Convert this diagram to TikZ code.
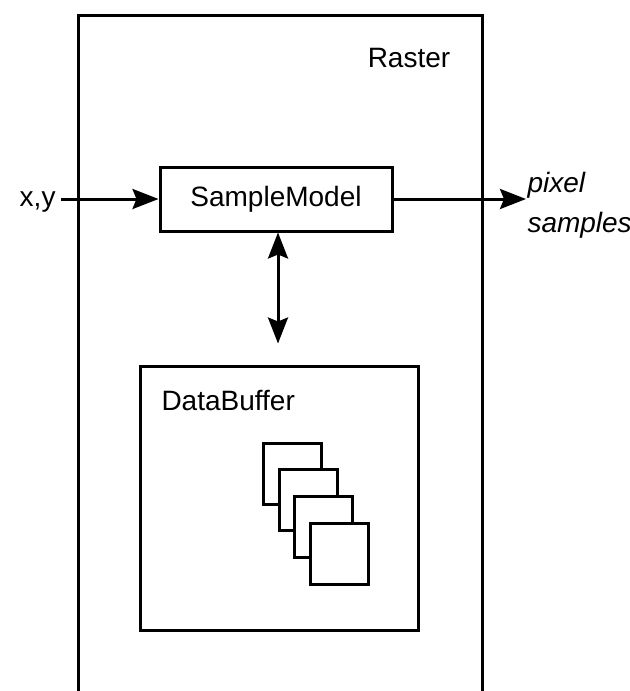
\documentclass[tikz,border=0pt]{standalone}
\usepackage{fontspec}
\setmainfont{Liberation Sans}
\usetikzlibrary{positioning, arrows.meta, calc}

\begin{document}
\begin{tikzpicture}[
  x=0.5pt, y=-0.5pt,
  font=\fontsize{14pt}{18pt}\selectfont,
  line width=1.5pt,
  >={Stealth[length=13pt, width=10pt, inset=2pt]},
  every node/.style={inner sep=0pt},
  %
  rasterbox/.style={draw, anchor=north west,
    minimum width=202pt, minimum height=353pt},
  modelbox/.style={draw, fill=white,
    minimum width=116pt, minimum height=32pt},
  bufferbox/.style={draw, fill=white,
    minimum width=139pt, minimum height=132pt},
  pagebox/.style={draw, fill=white,
    minimum width=29pt, minimum height=30.5pt},
  arr/.style={->},
]

% page size + crop (raster runs off the bottom)
\useasboundingbox (0,0) rectangle (630,691);
\clip (0,0) rectangle (630,691);

% ---- containers
\node[rasterbox] (raster) at (77,14) {};
\node (rasterlbl) at (409,58) {Raster};

\node[modelbox]  (sm) at (276,199) {SampleModel};
\node[bufferbox] (db) at (279,498) {};
\node[anchor=base west] (dblbl) at (160,410) {DataBuffer};

% ---- data banks, stacked
\foreach \i in {0,...,3}
  \node[pagebox] (bank\i) at (292.5+15.7*\i, 473.5+26.7*\i) {};

% ---- inputs / outputs
\node[anchor=base east, inner xsep=2pt] (xy) at (61,206) {x,y};
\node[anchor=west, align=left, font=\fontsize{14pt}{20pt}\selectfont\itshape]
  (pix) at (526,205) {pixel\\samples};

\coordinate (dbtop) at ($(db.north)+(-1,-21)$);

% ---- arrows
\draw[arr] (xy.east |- sm.west) -- (sm.west);
\draw[arr] (sm.east) -- (sm.east -| pix.west);
\draw[<->] (sm.south -| dbtop) -- (dbtop);

\end{tikzpicture}
\end{document}
